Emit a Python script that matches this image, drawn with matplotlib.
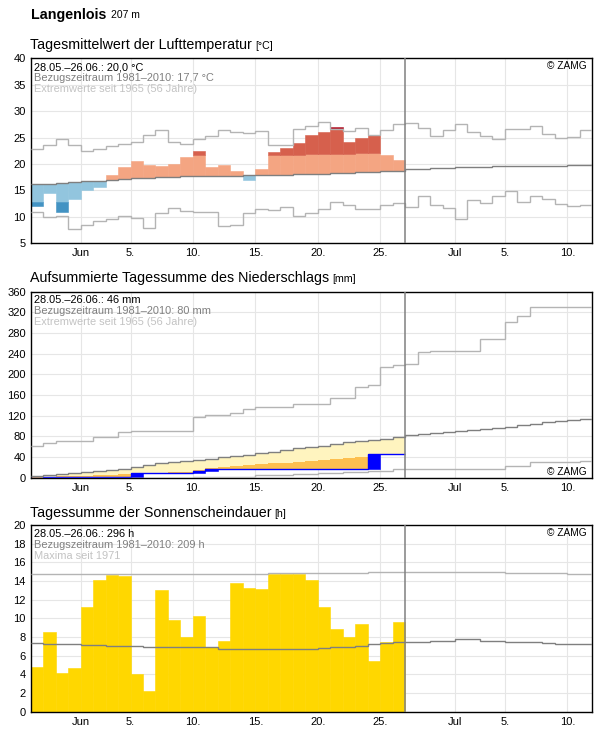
import numpy as np
import matplotlib
matplotlib.use("Agg")
import matplotlib.pyplot as plt

plt.rcParams["font.family"] = ["Liberation Sans", "DejaVu Sans"]

# day 0 = 28.05.; observations up to 26.06. (30 days), climate lines to 11.07.
tick_days = [4, 8, 13, 18, 23, 28, 34, 38, 43]
tick_labels = ["Jun", "5.", "10.", "15.", "20.", "25.", "Jul", "5.", "10."]
today = 30

# --- air temperature (daily mean, degC) ---
t_obs = [12.1, 14.4, 10.9, 13.3, 15.1, 15.7, 17.9, 19.4, 20.6, 19.8,
         19.6, 20.0, 21.3, 22.5, 19.4, 19.8, 18.7, 16.9, 19.0, 22.3,
         23.1, 24.0, 25.4, 26.1, 27.1, 24.2, 25.0, 25.4, 21.7, 20.7]
t_norm = [16.2, 16.2, 16.4, 16.6, 16.7, 16.8, 16.9, 17.1, 17.3, 17.3,
          17.5, 17.6, 17.7, 17.75, 17.8, 17.8, 17.8, 17.85, 17.85, 17.85,
          17.9, 18.0, 18.0, 18.1, 18.2, 18.2, 18.4, 18.5, 18.7, 18.75,
          18.95, 19.05, 19.15, 19.2, 19.35, 19.4, 19.5, 19.55, 19.6, 19.6,
          19.6, 19.6, 19.65, 19.8, 19.8]
t_max = [22.8, 23.6, 24.7, 23.6, 22.5, 22.8, 23.4, 23.8, 24.1, 25.5,
         26.4, 24.1, 23.8, 24.7, 25.3, 26.5, 26.05, 25.8, 26.2, 23.6,
         23.6, 26.7, 27.2, 28.0, 26.6, 26.3, 26.75, 25.5, 26.4, 27.5,
         27.7, 26.9, 25.3, 26.4, 27.5, 26.1, 25.3, 24.7, 26.6, 26.6,
         27.2, 25.6, 24.85, 25.1, 26.4]
t_min = [10.8, 9.9, 10.1, 7.65, 8.5, 9.2, 9.5, 10.1, 9.7, 7.8,
         10.6, 11.6, 11.05, 10.95, 10.95, 8.2, 8.35, 10.6, 11.4, 11.25,
         11.9, 10.2, 10.6, 11.45, 12.7, 12.3, 11.4, 11.4, 12.2, 12.6,
         11.8, 14.0, 12.3, 11.6, 9.5, 13.1, 12.5, 13.9, 14.9, 12.7,
         13.85, 13.3, 12.4, 12.1, 12.3]
t_thr_hi = [20.1, 20.1, 20.3, 20.5, 20.6, 20.7, 20.8, 21.0, 21.2, 21.2,
            21.4, 21.5, 21.6, 21.7, 21.7, 21.7, 21.7, 21.7, 21.7, 21.6,
            21.7, 21.7, 21.8, 21.9, 21.95, 21.95, 22.05, 22.1, 22.1, 22.2]
t_thr_lo = [12.8, 12.8, 12.8, 13.0, 13.1, 13.2, 13.3, 13.5, 13.7, 13.7,
            13.9, 14.0, 14.1, 14.2, 14.2, 14.2, 14.2, 14.3, 14.3, 14.3,
            14.3, 14.4, 14.4, 14.5, 14.6, 14.6, 14.8, 14.9, 15.1, 15.2]

# --- precipitation (cumulative, mm) ---
p_obs = [0.2, 0.7, 0.7, 0.7, 0.7, 0.7, 0.7, 0.7, 9.7, 9.7,
         9.7, 9.7, 9.7, 13.6, 16.2, 16.6, 16.6, 16.6, 16.6, 16.6,
         16.6, 16.6, 16.6, 16.6, 16.6, 16.6, 16.6, 45.5, 46.0, 46.0]
p_thr = [1.5, 2.3, 3.0, 3.3, 3.5, 4.5, 6.0, 6.8, 7.8, 8.6,
         9.3, 10.2, 11.5, 14.0, 18.0, 21.0, 23.0, 25.0, 26.0, 28.0,
         29.0, 31.0, 33.0, 34.0, 36.0, 38.0, 40.0, 41.0, 42.0, 43.0]
p_norm = [3.3, 5.2, 7.2, 8.5, 10.4, 13.1, 15.0, 17.7, 21.3, 24.6,
          27.8, 29.8, 32.3, 34.3, 36.9, 39.5, 42.0, 44.5, 47.2, 50.4,
          53.6, 56.8, 60.0, 62.0, 65.2, 68.5, 71.0, 73.0, 75.5, 79.4,
          82.6, 84.6, 86.5, 88.5, 90.4, 92.3, 94.9, 96.8, 98.7, 101.4,
          103.9, 107.8, 109.7, 111.7, 113.0]
p_max = [62.0, 66.5, 70.4, 70.4, 70.4, 78.8, 78.8, 87.8, 90.4, 90.4,
         90.4, 90.4, 90.4, 118.1, 121.3, 121.3, 124.5, 133.0, 137.5, 137.5,
         137.5, 142.0, 142.0, 142.0, 153.6, 153.6, 174.9, 178.8, 213.6, 218.1,
         220.0, 243.9, 245.2, 245.2, 245.2, 245.2, 267.8, 267.8, 302.0, 313.0,
         329.7, 329.7, 329.7, 329.7, 329.7]
p_min = [0, 0, 0, 0, 0, 0, 0, 0, 0, 0.3,
         0.3, 0.3, 0.3, 1.0, 1.0, 1.0, 2.0, 2.0, 5.2, 5.2,
         5.2, 7.2, 7.2, 9.8, 9.8, 11.7, 11.7, 13.7, 13.7, 16.3,
         16.3, 16.3, 16.3, 17.6, 17.6, 17.6, 17.6, 17.6, 22.7, 22.7,
         31.1, 31.1, 31.1, 31.1, 33.0]

# --- sunshine duration (h per day) ---
s_obs = [4.8, 8.5, 4.15, 4.7, 11.2, 14.1, 14.6, 14.5, 4.0, 2.2,
         13.0, 9.8, 8.0, 10.25, 6.9, 7.6, 13.8, 13.25, 13.15, 14.7,
         14.8, 14.8, 14.1, 11.2, 8.85, 8.05, 9.4, 5.45, 7.45, 9.6]
s_norm = [7.32, 7.2, 7.2, 7.2, 7.1, 7.1, 7.03, 7.03, 7.03, 6.9,
          6.9, 6.9, 6.9, 6.9, 6.9, 6.75, 6.75, 6.75, 6.68, 6.68,
          6.68, 6.68, 6.68, 6.79, 6.89, 6.89, 7.03, 7.2, 7.36, 7.43,
          7.5, 7.5, 7.6, 7.6, 7.75, 7.75, 7.6, 7.6, 7.5, 7.5,
          7.5, 7.39, 7.29, 7.29, 7.29]
s_max = [14.7, 14.7, 14.7, 14.7, 14.7, 14.7, 14.7, 14.7, 14.7, 14.7,
         14.7, 14.7, 14.7, 14.7, 14.7, 14.7, 14.7, 14.7, 14.7, 14.82,
         14.82, 14.82, 14.82, 14.82, 14.82, 14.82, 14.82, 14.96, 14.96, 14.96,
         14.96, 14.96, 14.96, 14.96, 14.96, 14.96, 14.96, 14.96, 14.86, 14.86,
         14.86, 14.86, 14.86, 14.71, 14.71]

W, H = 596, 729
AX_L, AX_R = 30.7, 592.3
PANELS = {"temp": (58.5, 243.0), "prec": (291.7, 477.7), "sun": (525.0, 711.7)}

NORM_C = "#7f7f7f"
EXT_C = "#b4b4b4"
LINE_W = 1.0


def make_axes(fig, key):
    top, bottom = PANELS[key]
    ax = fig.add_axes([AX_L / W, 1 - bottom / H, (AX_R - AX_L) / W, (bottom - top) / H])
    return ax


def style_axes(ax, ylim, yticks):
    ax.set_xlim(0, 45)
    ax.set_ylim(*ylim)
    ax.set_xticks(tick_days)
    ax.set_xticklabels(tick_labels)
    ax.set_yticks(yticks)
    ax.set_axisbelow(True)
    ax.grid(color="#e6e6e6", lw=0.8)
    ax.tick_params(length=0, labelsize=8, pad=3.5)
    for sp in ax.spines.values():
        sp.set_linewidth(1.0)
    ax.axvline(today, color="#808080", lw=1.1, zorder=6)


def legend_lines(ax, lines, ax_h):
    colors = ["black", "#808080", "#c3c3c3"]
    for i, (txt, c) in enumerate(zip(lines, colors)):
        ax.text(3.5 / (AX_R - AX_L), 1 - (11.7 + 11 * i) / ax_h, txt, color=c,
                fontsize=7.9, va="baseline", ha="left", transform=ax.transAxes, zorder=8)


def copyright(ax, ax_h, bottom=False):
    y = 2.7 / ax_h if bottom else 1 - 10.5 / ax_h
    ax.text(1 - 6 / (AX_R - AX_L), y, "© ZAMG", fontsize=7.3, ha="right", va="baseline",
            transform=ax.transAxes, zorder=8)


def panel_title(fig, y_px, main, unit):
    t = fig.text(30 / W, 1 - y_px / H, main, fontsize=10.3, va="baseline")
    bb = t.get_window_extent(fig.canvas.get_renderer())
    fig.text((bb.x1 + 3) / fig.bbox.width, 1 - y_px / H, unit, fontsize=7.7, va="baseline")


def fill_bars(ax, days, bottom, top, color):
    mask = top > bottom
    ax.bar(days[mask], (top - bottom)[mask], bottom=bottom[mask], width=1, align="edge",
           color=color, edgecolor=color, lw=0.4, zorder=2)


def plot_temp(ax):
    obs = np.array(t_obs)
    n = len(obs)
    d = np.arange(n)
    norm = np.array(t_norm[:n])
    hi = np.array(t_thr_hi)
    lo = np.array(t_thr_lo)
    tmax = np.array(t_max[:n])

    above = obs >= norm
    fill_bars(ax, d, np.where(above, norm, 0), np.where(above, np.minimum(obs, hi), 0), "#f4a582")
    fill_bars(ax, d, hi, np.minimum(obs, tmax), "#d6604d")
    fill_bars(ax, d, tmax, obs, "#b2182b")
    below = obs < norm
    fill_bars(ax, d, np.where(below, np.maximum(obs, lo), 0), np.where(below, norm, 0), "#92c5de")
    fill_bars(ax, d, obs, lo, "#4393c3")

    edges = np.arange(len(t_norm) + 1)
    ax.stairs(t_max, edges, baseline=None, color=EXT_C, lw=LINE_W, zorder=4)
    ax.stairs(t_min, edges, baseline=None, color=EXT_C, lw=LINE_W, zorder=4)
    ax.stairs(t_norm, edges, baseline=None, color=NORM_C, lw=LINE_W, zorder=5)

    style_axes(ax, (5, 40), np.arange(5, 41, 5))
    legend_lines(ax, ["28.05.–26.06.: 20,0 °C", "Bezugszeitraum 1981–2010: 17,7 °C",
                      "Extremwerte seit 1965 (56 Jahre)"], 184.5)
    copyright(ax, 184.5)


def plot_prec(ax):
    obs = np.array(p_obs)
    n = len(obs)
    d = np.arange(n)
    e = np.arange(n + 1)
    thr = np.array(p_thr)
    norm = np.array(p_norm[:n])

    orange_top = np.maximum(thr, obs)
    ax.stairs(orange_top, e, baseline=obs, fill=True, color="#fdbf4f", lw=0, zorder=2)
    yellow_lo = orange_top
    ax.stairs(np.maximum(norm, yellow_lo), e, baseline=yellow_lo, fill=True,
              color="#fff4bf", lw=0, zorder=2)

    prev = np.concatenate([[0.0], obs[:-1]])
    fill_bars(ax, d, prev, obs, "#0000ff")
    ax.stairs(obs, e, baseline=None, color="#0000ff", lw=LINE_W, zorder=4)

    edges = np.arange(len(p_norm) + 1)
    ax.stairs(p_max, edges, baseline=None, color=EXT_C, lw=LINE_W, zorder=4)
    ax.stairs(p_min, edges, baseline=None, color=EXT_C, lw=LINE_W, zorder=4)
    ax.stairs(p_norm, edges, baseline=None, color=NORM_C, lw=LINE_W, zorder=5)

    style_axes(ax, (0, 360), np.arange(0, 361, 40))
    legend_lines(ax, ["28.05.–26.06.: 46 mm", "Bezugszeitraum 1981–2010: 80 mm",
                      "Extremwerte seit 1965 (56 Jahre)"], 186)
    copyright(ax, 186, bottom=True)


def plot_sun(ax):
    d = np.arange(len(s_obs))
    ax.bar(d, s_obs, width=1, align="edge", color="#ffd700", edgecolor="#ffd700", lw=0.4, zorder=2)
    edges = np.arange(len(s_norm) + 1)
    ax.stairs(s_max, edges, baseline=None, color=EXT_C, lw=LINE_W, zorder=4)
    ax.stairs(s_norm, edges, baseline=None, color=NORM_C, lw=LINE_W, zorder=5)

    style_axes(ax, (0, 20), np.arange(0, 21, 2))
    legend_lines(ax, ["28.05.–26.06.: 296 h", "Bezugszeitraum 1981–2010: 209 h",
                      "Maxima seit 1971"], 186.7)
    copyright(ax, 186.7)


def main():
    fig = plt.figure(figsize=(W / 100, H / 100), dpi=100)

    t = fig.text(31.5 / W, 1 - 18.5 / H, "Langenlois", fontsize=10.3, fontweight="bold", va="baseline")
    bb = t.get_window_extent(fig.canvas.get_renderer())
    fig.text((bb.x1 + 4) / W, 1 - 18.5 / H, "207 m", fontsize=7.5, va="baseline")

    panel_title(fig, 49, "Tagesmittelwert der Lufttemperatur", "[°C]")
    panel_title(fig, 282, "Aufsummierte Tagessumme des Niederschlags", "[mm]")
    panel_title(fig, 517, "Tagessumme der Sonnenscheindauer", "[h]")

    plot_temp(make_axes(fig, "temp"))
    plot_prec(make_axes(fig, "prec"))
    plot_sun(make_axes(fig, "sun"))

    fig.savefig("out.png", dpi=100)
    plt.close(fig)


if __name__ == "__main__":
    main()
